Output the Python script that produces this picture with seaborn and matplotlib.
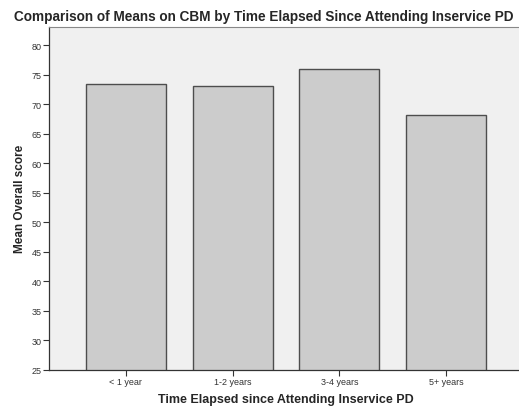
import matplotlib
matplotlib.use("Agg")
import matplotlib.pyplot as plt
import seaborn as sns
import pandas as pd

# Values
categories = ['< 1 year', '1-2 years', '3-4 years', '5+ years']
mean_scores = [73.5, 73.2, 76.0, 68.2]
y_ticks = list(range(25, 85, 5))

df = pd.DataFrame({'period': categories, 'score': mean_scores})

sns.set_style("white")
plt.rcParams['font.family'] = ['Liberation Sans', 'DejaVu Sans']

fig = plt.figure(figsize=(5.19, 4.10), dpi=100)
ax = fig.add_axes([49 / 519, 0.0963, (523 - 49) / 519, 0.835])
ax.set_facecolor('#f0f0f0')

sns.barplot(data=df, x='period', y='score', color='#cccccc', saturation=1,
            edgecolor='#4d4d4d', linewidth=1.0, width=0.75, ax=ax, zorder=2)

ax.set_xlim(-0.72, 3.72)
ax.set_ylim(25, 83.1)
ax.set_yticks(y_ticks)
ax.tick_params(axis='both', direction='out', length=4, width=0.8,
               bottom=True, left=True,
               color='#333333', labelsize=6.5, labelcolor='#333333', pad=1.5)

for side in ['left', 'bottom']:
    ax.spines[side].set_color('#333333')
    ax.spines[side].set_linewidth(0.9)
ax.spines['top'].set_color('#888888')
ax.spines['top'].set_linewidth(0.8)
ax.spines['right'].set_visible(False)

ax.set_xlabel('Time Elapsed since Attending Inservice PD', fontsize=9,
              fontweight='bold', labelpad=5)
ax.set_ylabel('Mean Overall score', fontsize=8.5, fontweight='bold', labelpad=4)
fig.suptitle('Comparison of Means on CBM by Time Elapsed Since Attending Inservice PD',
             fontsize=9.8, fontweight='bold', x=0.508, y=0.975, va='top')

fig.savefig('out.png', dpi=100)
